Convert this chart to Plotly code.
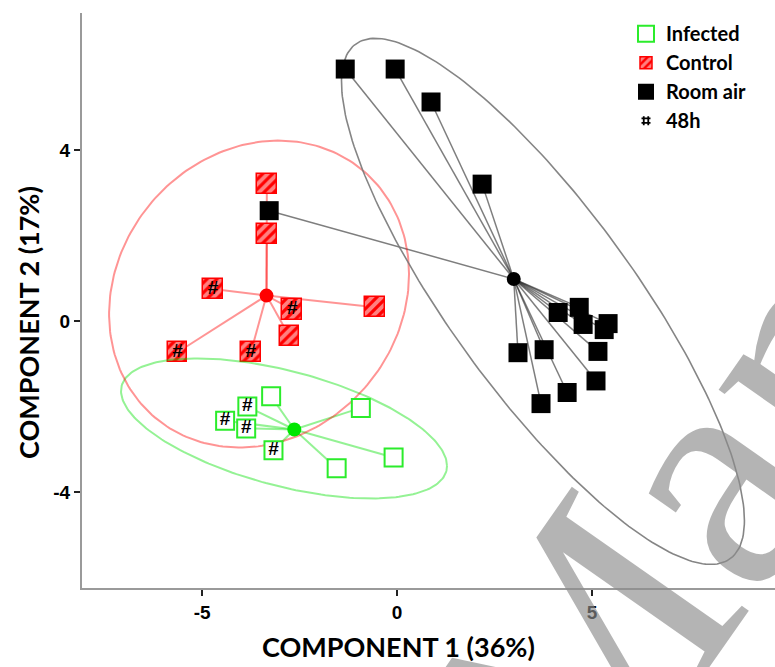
import numpy as np
import plotly.graph_objects as go

# ---- PCA scores (component 1, component 2) ----
infected_x = [-3.23, -3.84, -4.41, -3.87, -3.17, -0.93, -1.55, -0.09]
infected_y = [-1.76, -2.00, -2.33, -2.51, -3.02, -2.03, -3.44, -3.19]
infected_48h = [0, 1, 1, 1, 1, 0, 0, 0]

control_x = [-3.34, -3.34, -4.72, -2.69, -0.56, -2.76, -5.63, -3.75]
control_y = [3.20, 2.04, 0.75, 0.27, 0.32, -0.36, -0.73, -0.73]
control_48h = [0, 0, 1, 1, 0, 0, 1, 1]

room_x = [-1.33, -0.05, 0.87, 2.18, -3.28, 4.13, 4.67, 4.77, 5.41, 5.31,
          3.10, 3.77, 5.15, 5.10, 4.36, 3.69]
room_y = [5.89, 5.89, 5.12, 3.20, 2.58, 0.20, 0.32, -0.08, -0.06, -0.20,
          -0.74, -0.67, -0.71, -1.40, -1.67, -1.93]

# confidence ellipses: centre and 2x2 shape matrix (data units)
ell_infected = dict(center=(-2.90, -2.51), shape=[[17.47, -3.66], [-3.66, 2.68]])
ell_control = dict(center=(-3.54, 0.63), shape=[[14.79, 1.80], [1.80, 12.87]])
ell_room = dict(center=(3.74, 0.46), shape=[[26.69, -26.47], [-26.47, 37.80]])

x_ticks = [-5, 0, 5]
y_ticks = [-4, 0, 4]

GREEN = "#2bec2b"
RED = "#ff0000"
BLACK = "#000000"


def ellipse_xy(center, shape, n=240):
    L = np.linalg.cholesky(np.array(shape, dtype=float))
    t = np.linspace(0, 2 * np.pi, n)
    pts = L @ np.vstack([np.cos(t), np.sin(t)])
    return pts[0] + center[0], pts[1] + center[1]


fig = go.Figure()
shapes = []

# spokes from each group centroid to its samples
groups = [
    (infected_x, infected_y, "rgba(0,225,0,0.42)", 2.0),
    (control_x, control_y, "rgba(255,0,0,0.42)", 2.0),
    (room_x, room_y, "rgba(40,40,40,0.6)", 1.5),
]
centroids = []
for gx, gy, col, w in groups:
    cx, cy = float(np.mean(gx)), float(np.mean(gy))
    centroids.append((cx, cy))
    for px, py in zip(gx, gy):
        shapes.append(dict(type="line", xref="x", yref="y", x0=cx, y0=cy,
                           x1=px, y1=py, layer="below",
                           line=dict(color=col, width=w)))

# watermark running diagonally across the lower right
shapes.append(dict(
    type="line", xref="paper", yref="paper",
    x0=0.7133, y0=-0.0226, x1=0.7961, y1=0.1200, layer="above",
    line=dict(color="rgba(0,0,0,0)", width=1),
    label=dict(text="Author Manuscript", textangle=-55,
               textposition="middle", xanchor="center", yanchor="middle",
               font=dict(family="Liberation Serif, serif", size=330,
                         color="rgba(140,140,140,0.65)")),
))

# ellipses
for ell, col, w in [(ell_infected, "rgba(0,225,0,0.42)", 2.0),
                    (ell_control, "rgba(255,0,0,0.42)", 2.0),
                    (ell_room, "rgba(120,120,120,0.9)", 1.6)]:
    ex, ey = ellipse_xy(ell["center"], ell["shape"])
    fig.add_trace(go.Scatter(x=ex, y=ey, mode="lines", showlegend=False,
                             hoverinfo="skip", line=dict(color=col, width=w)))

# hatched control squares
sq_w, sq_h = 0.51, 0.47
fig.add_trace(go.Bar(
    x=control_x, y=[sq_h] * len(control_x),
    base=[v - sq_h / 2 for v in control_y], width=sq_w,
    name="Control", legendrank=2,
    marker=dict(color=RED, line=dict(color=RED, width=1.5),
                pattern=dict(shape="/", fgcolor="white", size=7,
                             solidity=0.55, fillmode="overlay")),
))

# infected squares
fig.add_trace(go.Scatter(
    x=infected_x, y=infected_y, mode="markers", name="Infected", legendrank=1,
    marker=dict(symbol="square", size=18, color="white",
                line=dict(color=GREEN, width=2)),
))

# room air squares
fig.add_trace(go.Scatter(
    x=room_x, y=room_y, mode="markers", name="Room air", legendrank=3,
    marker=dict(symbol="square", size=19, color=BLACK, line=dict(width=0)),
))

# group centroids
for (cx, cy), col in zip(centroids, ["#00e600", RED, BLACK]):
    fig.add_trace(go.Scatter(x=[cx], y=[cy], mode="markers", showlegend=False,
                             hoverinfo="skip",
                             marker=dict(symbol="circle", size=14, color=col)))

# 48h samples marked with '#'
h_x = [x for x, f in zip(infected_x, infected_48h) if f] + \
      [x for x, f in zip(control_x, control_48h) if f]
h_y = [y for y, f in zip(infected_y, infected_48h) if f] + \
      [y for y, f in zip(control_y, control_48h) if f]
fig.add_trace(go.Scatter(
    x=h_x, y=h_y, mode="text", text=["#"] * len(h_x), showlegend=False,
    textposition="middle center",
    textfont=dict(family="Liberation Sans, Arial", size=19, color=BLACK,
                  weight="bold"),
))
fig.add_trace(go.Scatter(
    x=[None], y=[None], mode="markers", name="48h", legendrank=4,
    marker=dict(symbol="hash-open", size=9, color=BLACK,
                line=dict(color=BLACK, width=1.8)),
))

tick_font = dict(family="Liberation Sans Narrow, Liberation Sans, Arial",
                 size=19, color="black", weight="bold")
label_font = dict(family="Lato, Open Sans, sans-serif", size=27,
                  color="black", weight="bold")

fig.update_layout(
    width=775, height=667,
    margin=dict(l=82, r=0, t=13, b=79),
    paper_bgcolor="white", plot_bgcolor="white",
    barmode="overlay", bargap=0,
    shapes=shapes,
    showlegend=True,
    legend=dict(x=0.785, y=0.998, xanchor="left", yanchor="top",
                bgcolor="rgba(0,0,0,0)", tracegroupgap=2,
                font=dict(family="Lato, Open Sans, sans-serif", size=20,
                          color="black", weight="bold")),
    xaxis=dict(range=[-8.08, 9.69], showgrid=False, zeroline=False,
               showline=True, linecolor="#9a9a9a", linewidth=2,
               ticks="outside", ticklen=6, tickwidth=2, tickcolor="#222",
               tickvals=x_ticks, ticktext=[str(v) for v in x_ticks],
               tickfont=tick_font),
    yaxis=dict(range=[-6.24, 7.2], showgrid=False, zeroline=False,
               showline=True, linecolor="#9a9a9a", linewidth=2,
               ticks="outside", ticklen=6, tickwidth=2, tickcolor="#222",
               tickvals=y_ticks, ticktext=[str(v) for v in y_ticks],
               tickfont=tick_font),
    annotations=[
        dict(text="COMPONENT 1 (36%)", xref="paper", yref="paper",
             x=0.456, y=-0.1026, xanchor="center", yanchor="middle",
             showarrow=False, font=label_font),
        dict(text="COMPONENT 2 (17%)", xref="paper", yref="paper",
             x=-0.078, y=0.4626, xanchor="center", yanchor="middle",
             showarrow=False, textangle=-90, font=label_font),
    ],
)

fig.write_html("out.html")
